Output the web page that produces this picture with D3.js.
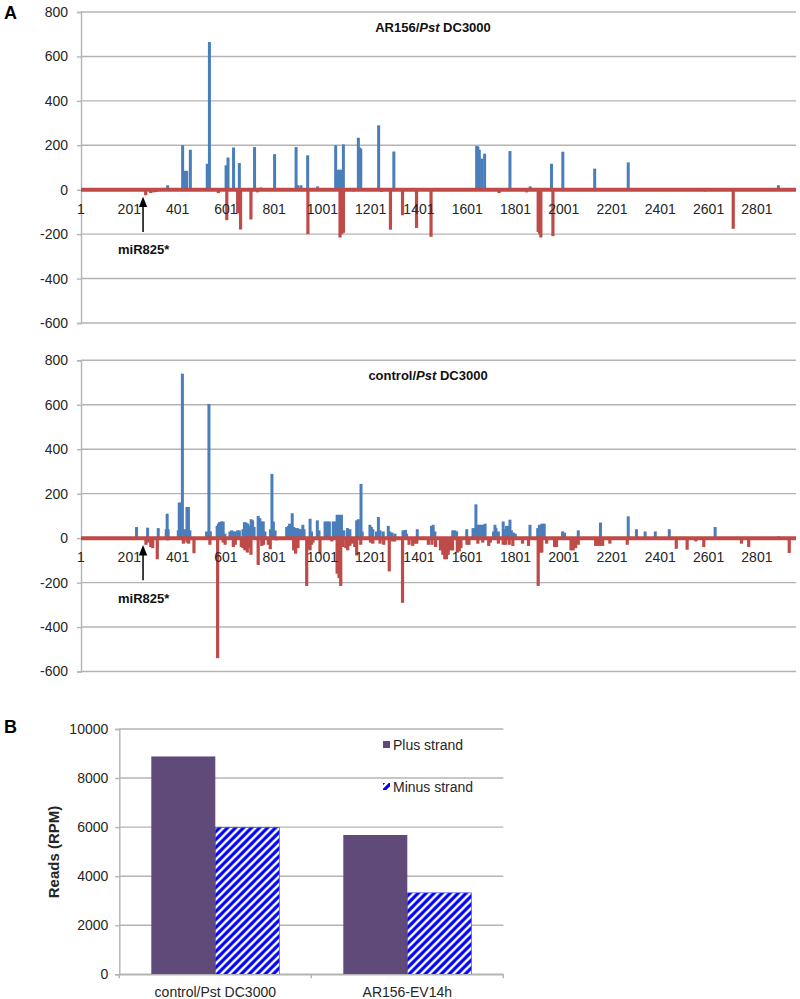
<!DOCTYPE html>
<html><head><meta charset="utf-8">
<script src="https://cdn.jsdelivr.net/npm/d3@7"></script>
<style>
body{margin:0;background:#fff;}
text{font-family:Arial,"Liberation Sans",sans-serif;}
</style></head>
<body><svg id="c" width="800" height="999"></svg>
<script>
// ---------- DATA ----------
const posTicks = [1,201,401,601,801,1001,1201,1401,1601,1801,2001,2201,2401,2601,2801];
const yTicksA = [-600,-400,-200,0,200,400,600,800];
const miRPos = 258;

// AR156/Pst DC3000 : [position, reads]
const arPlus = [[360,20],[422,200],[430,85],[439,85],[454,180],[524,117],[533,665],[602,110],[610,145],[633,190],[657,120],[720,192],[746,10],[803,160],[892,192],[898,20],[912,20],[940,155],[981,15],[1056,200],[1063,90],[1072,90],[1080,90],[1088,204],[1150,234],[1155,190],[1160,185],[1234,290],[1297,172],[1640,197],[1645,195],[1651,180],[1661,140],[1673,162],[1778,174],[1862,15],[1950,117],[1997,171],[2129,95],[2268,123],[2890,20]];
const arMinus = [[269,-25],[290,-15],[303,-12],[314,-10],[570,-15],[605,-137],[650,-107],[662,-179],[705,-134],[732,-12],[941,-200],[1074,-215],[1081,-200],[1088,-194],[1130,-8],[1246,-10],[1283,-180],[1333,-115],[1391,-172],[1451,-212],[1640,-5],[1733,-15],[1847,-12],[1895,-190],[1901,-200],[1906,-215],[1956,-209],[2206,-5],[2586,-8],[2703,-176]];

// control/Pst DC3000 : [position, reads]
const ctPlus = [[231,50],[277,47],[321,45],[354,40],[358,110],[362,40],[404,35],[408,160],[414,160],[421,740],[430,40],[440,140],[446,140],[452,35],[521,30],[531,603],[537,30],[565,55],[570,65],[575,72],[582,75],[590,75],[597,20],[618,30],[625,35],[632,30],[640,30],[650,35],[657,35],[672,40],[678,72],[685,70],[692,65],[700,55],[706,85],[712,80],[718,50],[735,100],[742,90],[749,75],[756,75],[763,30],[786,40],[792,289],[798,75],[805,35],[853,50],[860,55],[865,65],[876,112],[882,50],[890,45],[897,45],[904,42],[912,40],[920,60],[925,40],[950,87],[956,30],[980,80],[987,35],[1012,75],[1020,75],[1030,75],[1046,75],[1054,75],[1062,105],[1070,105],[1080,105],[1090,35],[1105,45],[1115,40],[1143,80],[1150,85],[1161,244],[1166,30],[1198,60],[1204,50],[1210,40],[1225,30],[1233,95],[1240,35],[1253,30],[1274,55],[1280,30],[1290,25],[1302,20],[1335,35],[1345,37],[1350,20],[1394,40],[1453,55],[1460,60],[1467,30],[1541,35],[1550,35],[1557,30],[1599,40],[1625,45],[1632,45],[1637,152],[1645,60],[1652,60],[1660,60],[1667,60],[1675,65],[1710,30],[1716,60],[1720,45],[1730,30],[1750,75],[1756,40],[1764,55],[1770,55],[1778,83],[1784,35],[1792,25],[1800,20],[1861,60],[1893,45],[1900,60],[1910,65],[1920,65],[1996,30],[2004,25],[2061,35],[2153,70],[2268,98],[2302,40],[2338,30],[2380,30],[2438,40],[2628,50],[2890,8]];
const ctMinus = [[270,-30],[278,-20],[290,-40],[298,-45],[317,-95],[360,-10],[425,-25],[440,-20],[447,-25],[469,-68],[535,-30],[567,-540],[590,-20],[598,-30],[632,-40],[640,-30],[665,-40],[672,-45],[680,-55],[690,-65],[697,-45],[705,-75],[735,-121],[750,-35],[757,-30],[777,-30],[785,-50],[810,-10],[882,-55],[890,-70],[900,-45],[936,-215],[942,-50],[950,-55],[956,-30],[962,-20],[991,-70],[1040,-15],[1062,-160],[1070,-180],[1077,-215],[1085,-40],[1098,-45],[1106,-55],[1115,-35],[1125,-25],[1135,-40],[1143,-78],[1160,-30],[1200,-20],[1210,-25],[1240,-25],[1255,-30],[1278,-150],[1290,-15],[1300,-15],[1333,-291],[1360,-30],[1375,-35],[1385,-25],[1392,-25],[1440,-30],[1455,-30],[1470,-40],[1490,-55],[1500,-75],[1508,-95],[1515,-95],[1522,-75],[1530,-55],[1540,-55],[1560,-65],[1568,-60],[1575,-45],[1600,-30],[1608,-30],[1645,-25],[1665,-20],[1690,-35],[1697,-20],[1730,-25],[1750,-30],[1760,-30],[1775,-30],[1790,-35],[1830,-25],[1855,-35],[1895,-215],[1905,-65],[1910,-65],[1930,-25],[1963,-40],[1971,-40],[2031,-55],[2040,-55],[2050,-45],[2061,-30],[2133,-35],[2142,-35],[2150,-35],[2162,-35],[2192,-25],[2264,-30],[2467,-48],[2512,-52],[2548,-15],[2581,-40],[2700,-8],[2737,-25],[2767,-40],[2935,-67]];

// Panel B
const bCategories = ["control/Pst DC3000","AR156-EV14h"];
const bPlus = [8880, 5680];
const bMinus = [5990, 3320];
const yTicksB = [0,2000,4000,6000,8000,10000];
const bSeries = ["Plus strand","Minus strand"];

// ---------- DRAW ----------
const svg = d3.select("#c");
const FONT = 'Arial,"Liberation Sans",sans-serif';
const BLUE = "#4a7ebb", RED = "#be4b48", GRID = "#b4b4b4", TXT = "#262626";
const plainFmt = d => String(d);

const defs = svg.append("defs");
const pat = defs.append("pattern").attr("id","stripes").attr("patternUnits","userSpaceOnUse")
  .attr("width",8).attr("height",8);
pat.append("rect").attr("width",8).attr("height",8).attr("fill","#fff");
pat.append("path").attr("d","M-2,2 L2,-2 M0,8 L8,0 M6,10 L10,6")
  .attr("stroke","#0000ff").attr("stroke-width",3.1);
const mk = defs.append("marker").attr("id","arr").attr("viewBox","0 0 10 10").attr("refX",5).attr("refY",5)
  .attr("markerWidth",7).attr("markerHeight",7).attr("orient","auto");
mk.append("path").attr("d","M0,1 L10,5 L0,9 Z").attr("fill","#000");

const x = d3.scaleLinear().domain([1, 2963]).range([81, 796]);

function panelA(yRange, plus, minus, titleParts, titleX, titleY) {
  const y = d3.scaleLinear().domain([-600, 800]).range(yRange);
  const g = svg.append("g");
  g.selectAll(".gl").data(yTicksA).join("line")
    .attr("x1", x.range()[0]).attr("x2", x.range()[1])
    .attr("y1", d => y(d)).attr("y2", d => y(d))
    .attr("stroke", GRID).attr("stroke-width", 1.4);
  const ax = g.append("g").attr("transform", `translate(${x.range()[0]},0)`)
    .call(d3.axisLeft(y).tickValues(yTicksA).tickSize(4).tickPadding(9).tickFormat(plainFmt));
  ax.select(".domain").attr("stroke", GRID).attr("stroke-width", 1.4);
  ax.selectAll(".tick line").attr("stroke", GRID).attr("stroke-width", 1.4);
  ax.selectAll("text").attr("font-family", FONT).attr("font-size", 14).attr("fill", TXT);
  g.selectAll(".p").data(plus).join("rect")
    .attr("x", d => x(d[0]) - 1.5).attr("width", 3)
    .attr("y", d => y(d[1])).attr("height", d => y(0) - y(d[1]))
    .attr("fill", BLUE);
  g.selectAll(".m").data(minus).join("rect")
    .attr("x", d => x(d[0]) - 1.6).attr("width", 3.2)
    .attr("y", y(0)).attr("height", d => y(d[1]) - y(0))
    .attr("fill", RED);
  g.append("line").attr("x1", x.range()[0]).attr("x2", x.range()[1])
    .attr("y1", y(0)).attr("y2", y(0)).attr("stroke", RED).attr("stroke-width", 4);
  g.selectAll(".xl").data(posTicks).join("text")
    .attr("x", d => x(d)).attr("y", y(0) + 24)
    .attr("text-anchor", "middle").attr("font-family", FONT).attr("font-size", 14).attr("fill", TXT)
    .text(d => d);
  const t = g.append("text").attr("x", titleX).attr("y", titleY).attr("text-anchor","middle")
    .attr("font-family", FONT).attr("font-size", 13).attr("font-weight","bold").attr("fill","#111");
  t.append("tspan").text(titleParts[0]);
  t.append("tspan").attr("font-style","italic").text(titleParts[1]);
  t.append("tspan").text(titleParts[2]);
  g.append("line").attr("x1", x(miRPos)).attr("x2", x(miRPos))
    .attr("y1", y(-190)).attr("y2", y(-55))
    .attr("stroke","#000").attr("stroke-width",1.5).attr("marker-end","url(#arr)");
  g.append("text").attr("x", x(miRPos) - 25).attr("y", y(-290))
    .attr("font-family", FONT).attr("font-size", 13).attr("font-weight","bold").attr("fill","#111")
    .text("miR825*");
}

panelA([323, 12], arPlus, arMinus, ["AR156/","Pst"," DC3000"], 433, 31.5);
panelA([671.5, 360.3], ctPlus, ctMinus, ["control/","Pst"," DC3000"], 428, 379.5);

svg.append("text").attr("x",4).attr("y",19).attr("font-family",FONT).attr("font-size",18)
  .attr("font-weight","bold").text("A");
svg.append("text").attr("x",4).attr("y",733).attr("font-family",FONT).attr("font-size",18)
  .attr("font-weight","bold").text("B");

// ---------- Panel B ----------
const yB = d3.scaleLinear().domain([0, 10000]).range([974.3, 729]);
const xB = d3.scaleBand().domain(bCategories).range([119.3, 503.3]).paddingInner(0).paddingOuter(0);
const xSub = d3.scaleBand().domain(bSeries).range([0, xB.bandwidth()]).paddingInner(0).paddingOuter(0.5);
const gB = svg.append("g");
gB.selectAll(".gl").data(yTicksB).join("line")
  .attr("x1", 119.3).attr("x2", 503.3).attr("y1", d => yB(d)).attr("y2", d => yB(d))
  .attr("stroke", GRID).attr("stroke-width", 1.4);
const axB = gB.append("g").attr("transform","translate(119.3,0)")
  .call(d3.axisLeft(yB).tickValues(yTicksB).tickSize(4).tickPadding(7).tickFormat(plainFmt));
axB.select(".domain").attr("stroke", GRID).attr("stroke-width",1.4);
axB.selectAll(".tick line").attr("stroke", GRID).attr("stroke-width",1.4);
axB.selectAll("text").attr("font-family",FONT).attr("font-size",14).attr("fill",TXT);

const bData = bCategories.map((c,i) => ({c, vals:[bPlus[i], bMinus[i]]}));
const groups = gB.selectAll(".grp").data(bData).join("g")
  .attr("transform", d => `translate(${xB(d.c)},0)`);
groups.selectAll("rect").data(d => d.vals.map((v,j) => ({s:bSeries[j], v}))).join("rect")
  .attr("x", d => xSub(d.s)).attr("width", xSub.bandwidth())
  .attr("y", d => yB(d.v)).attr("height", d => yB(0) - yB(d.v))
  .attr("fill", d => d.s === bSeries[0] ? "#5f4a7a" : "url(#stripes)")
  .attr("stroke", d => d.s === bSeries[0] ? "none" : "#3030ff").attr("stroke-width", 0.6);

const axX = gB.append("g").attr("transform",`translate(0,${yB(0)})`)
  .call(d3.axisBottom(xB).tickSize(0).tickPadding(13));
axX.select(".domain").attr("stroke", GRID).attr("stroke-width",1.4);
axX.selectAll("text").attr("font-family",FONT).attr("font-size",14).attr("fill",TXT);
gB.selectAll(".sep").data([119.3, 311.3, 503.3]).join("line")
  .attr("x1", d => d).attr("x2", d => d).attr("y1", yB(0)).attr("y2", yB(0) + 4)
  .attr("stroke", GRID).attr("stroke-width", 1.4);

gB.append("text").attr("transform","translate(59,852) rotate(-90)").attr("text-anchor","middle")
  .attr("font-family",FONT).attr("font-size",15).attr("font-weight","bold").attr("fill",TXT)
  .text("Reads (RPM)");

const leg = gB.selectAll(".leg").data(bSeries).join("g")
  .attr("transform", (d,i) => `translate(383,${741 + i*42})`);
leg.append("rect").attr("width",7).attr("height",7)
  .attr("fill", (d,i) => i === 0 ? "#5f4a7a" : "url(#stripes)");
leg.append("text").attr("x",10).attr("y",8.5).attr("font-family",FONT).attr("font-size",14)
  .attr("fill",TXT).text(d => d);
</script></body></html>
